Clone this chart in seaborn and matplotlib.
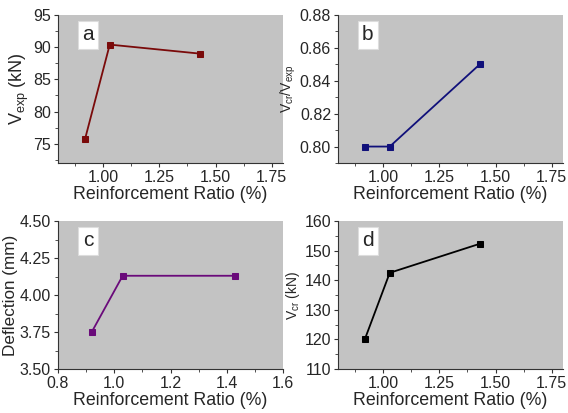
import matplotlib
matplotlib.use("Agg")
import matplotlib.pyplot as plt
import seaborn as sns
import pandas as pd
from matplotlib.ticker import MultipleLocator, AutoMinorLocator, FuncFormatter

ratio = [0.92, 1.03, 1.43]
v_exp = [75.7, 90.4, 89.0]
vcr_vexp = [0.80, 0.80, 0.85]
deflection = [3.75, 4.13, 4.13]
v_cr = [120.2, 142.5, 152.3]

sns.set_style("ticks")
plt.rcParams['font.family'] = ['Liberation Sans', 'DejaVu Sans']
plt.rcParams['mathtext.fontset'] = 'custom'
plt.rcParams['mathtext.rm'] = 'Liberation Sans'
plt.rcParams['mathtext.it'] = 'Liberation Sans'

fig = plt.figure(figsize=(5.68, 4.13), dpi=100)

W = 225 / 568
H = 148 / 413
positions = [
    (58 / 568, 1 - 163 / 413),
    (338 / 568, 1 - 163 / 413),
    (58 / 568, 1 - 369 / 413),
    (338 / 568, 1 - 369 / 413),
]

panels = [
    dict(y=v_exp, color="#7a0a0a", ylabel="V$_{exp}$ (kN)", ylfs=13, ylim=(72, 95), ymaj=5,
         xlim=(0.8, 1.8), xmaj=0.25, xfmt="{:.2f}", yfmt="{:.0f}", letter="a"),
    dict(y=vcr_vexp, color="#10107a", ylabel="V$_{cr}$/V$_{exp}$", ylfs=10, ylim=(0.79, 0.88), ymaj=0.02,
         xlim=(0.8, 1.8), xmaj=0.25, xfmt="{:.2f}", yfmt="{:.2f}", letter="b"),
    dict(y=deflection, color="#6a0a7a", ylabel="Deflection (mm)", ylfs=12.3, ylim=(3.5, 4.5), ymaj=0.25,
         xlim=(0.8, 1.6), xmaj=0.2, xfmt="{:.1f}", yfmt="{:.2f}", letter="c"),
    dict(y=v_cr, color="#000000", ylabel="V$_{cr}$ (kN)", ylfs=10, ylim=(110, 160), ymaj=10,
         xlim=(0.8, 1.8), xmaj=0.25, xfmt="{:.2f}", yfmt="{:.0f}", letter="d"),
]

for (l, b), p in zip(positions, panels):
    ax = fig.add_axes([l, b, W, H])
    ax.set_facecolor("#c3c3c3")
    df = pd.DataFrame({"x": ratio, "y": p["y"]})
    sns.lineplot(data=df, x="x", y="y", ax=ax, color=p["color"], marker="s",
                 markersize=4.5, markeredgecolor=p["color"], linewidth=1.3, sort=False)
    ax.set_xlim(*p["xlim"])
    ax.set_ylim(*p["ylim"])
    ax.xaxis.set_major_locator(MultipleLocator(p["xmaj"]))
    ax.xaxis.set_minor_locator(AutoMinorLocator(2))
    ax.yaxis.set_major_locator(MultipleLocator(p["ymaj"]))
    ax.yaxis.set_minor_locator(AutoMinorLocator(2))
    ax.xaxis.set_major_formatter(FuncFormatter(lambda v, pos, f=p["xfmt"]: f.format(v)))
    ax.yaxis.set_major_formatter(FuncFormatter(lambda v, pos, f=p["yfmt"]: f.format(v)))
    for side in ("top", "right"):
        ax.spines[side].set_visible(False)
    for side in ("left", "bottom"):
        ax.spines[side].set_color("#333333")
        ax.spines[side].set_linewidth(0.8)
    ax.tick_params(which="major", direction="out", length=3, width=0.8, labelsize=11.5,
                   color="#333333", pad=2)
    ax.tick_params(which="minor", direction="out", length=2, width=0.6, color="#333333")
    ax.set_xlabel("Reinforcement Ratio (%)", fontsize=12.8, labelpad=1)
    ax.set_ylabel(p["ylabel"], fontsize=p["ylfs"], labelpad=1.5)
    ax.text(0.133, 0.865, p["letter"], transform=ax.transAxes, fontsize=15,
            ha="center", va="center",
            bbox=dict(boxstyle="square,pad=0.22", facecolor="white", edgecolor="#dddddd", linewidth=0.8))

fig.savefig("out.png", dpi=100)
